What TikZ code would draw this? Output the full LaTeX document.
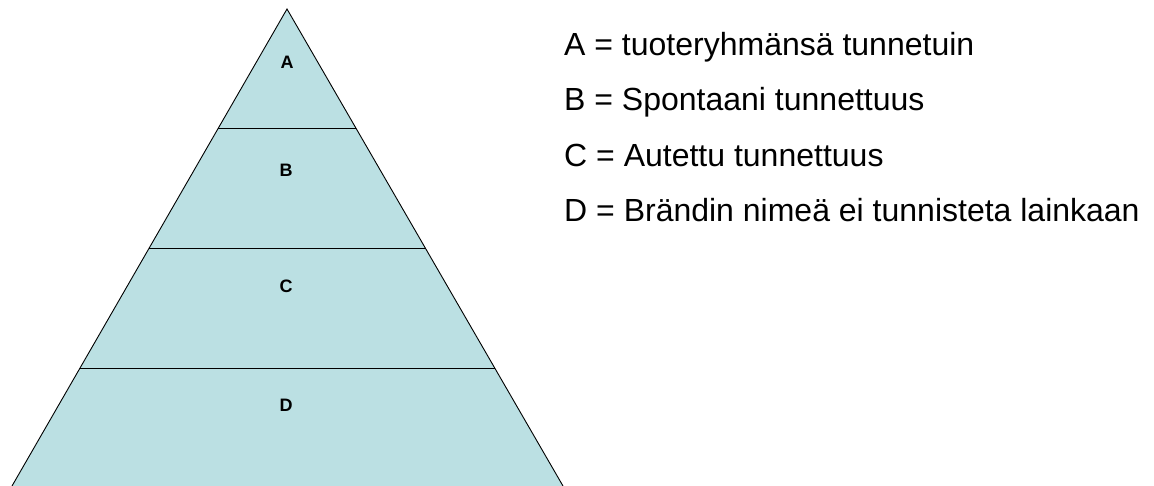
\documentclass[tikz,border=0pt]{standalone}
\usepackage{fontspec}
\setmainfont{Liberation Sans}
\definecolor{pyr}{HTML}{BBE0E3}
\begin{document}
\begin{tikzpicture}[x=1pt,y=-1pt,
  lvl/.style={font=\fontsize{18}{20}\selectfont\bfseries, anchor=center},
  leg/.style={font=\fontsize{32}{36}\selectfont, anchor=base west, inner sep=0pt},
  edge/.style={draw=black, line width=0.9pt}]
\useasboundingbox (0,0) rectangle (1154,486);
\coordinate (apex) at (287,9);
\coordinate (bl) at (12,486);
\coordinate (br) at (563,486);
\fill[pyr] (apex) -- (bl) -- (br) -- cycle;
\draw[edge] (bl) -- (apex) -- (br);
\coordinate (l1) at (218.4,128);
\coordinate (r1) at (356,128);
\coordinate (l2) at (149.2,248);
\coordinate (r2) at (425.4,248);
\coordinate (l3) at (80,368);
\coordinate (r3) at (494.7,368);
\draw[edge] (l1) -- (r1);
\draw[edge] (l2) -- (r2);
\draw[edge] (l3) -- (r3);
\node[lvl] (A) at (287,62.5) {A};
\node[lvl] (B) at (286,170) {B};
\node[lvl] (C) at (286,286) {C};
\node[lvl] (D) at (286,405) {D};
\node[leg] (LA) at (564,56) {A = tuoteryhmänsä tunnetuin};
\node[leg] (LB) at (564,111) {B = Spontaani tunnettuus};
\node[leg] (LC) at (564,166.5) {C = Autettu tunnettuus};
\node[leg] (LD) at (564,222) {D = Brändin nimeä ei tunnisteta lainkaan};
\end{tikzpicture}
\end{document}
